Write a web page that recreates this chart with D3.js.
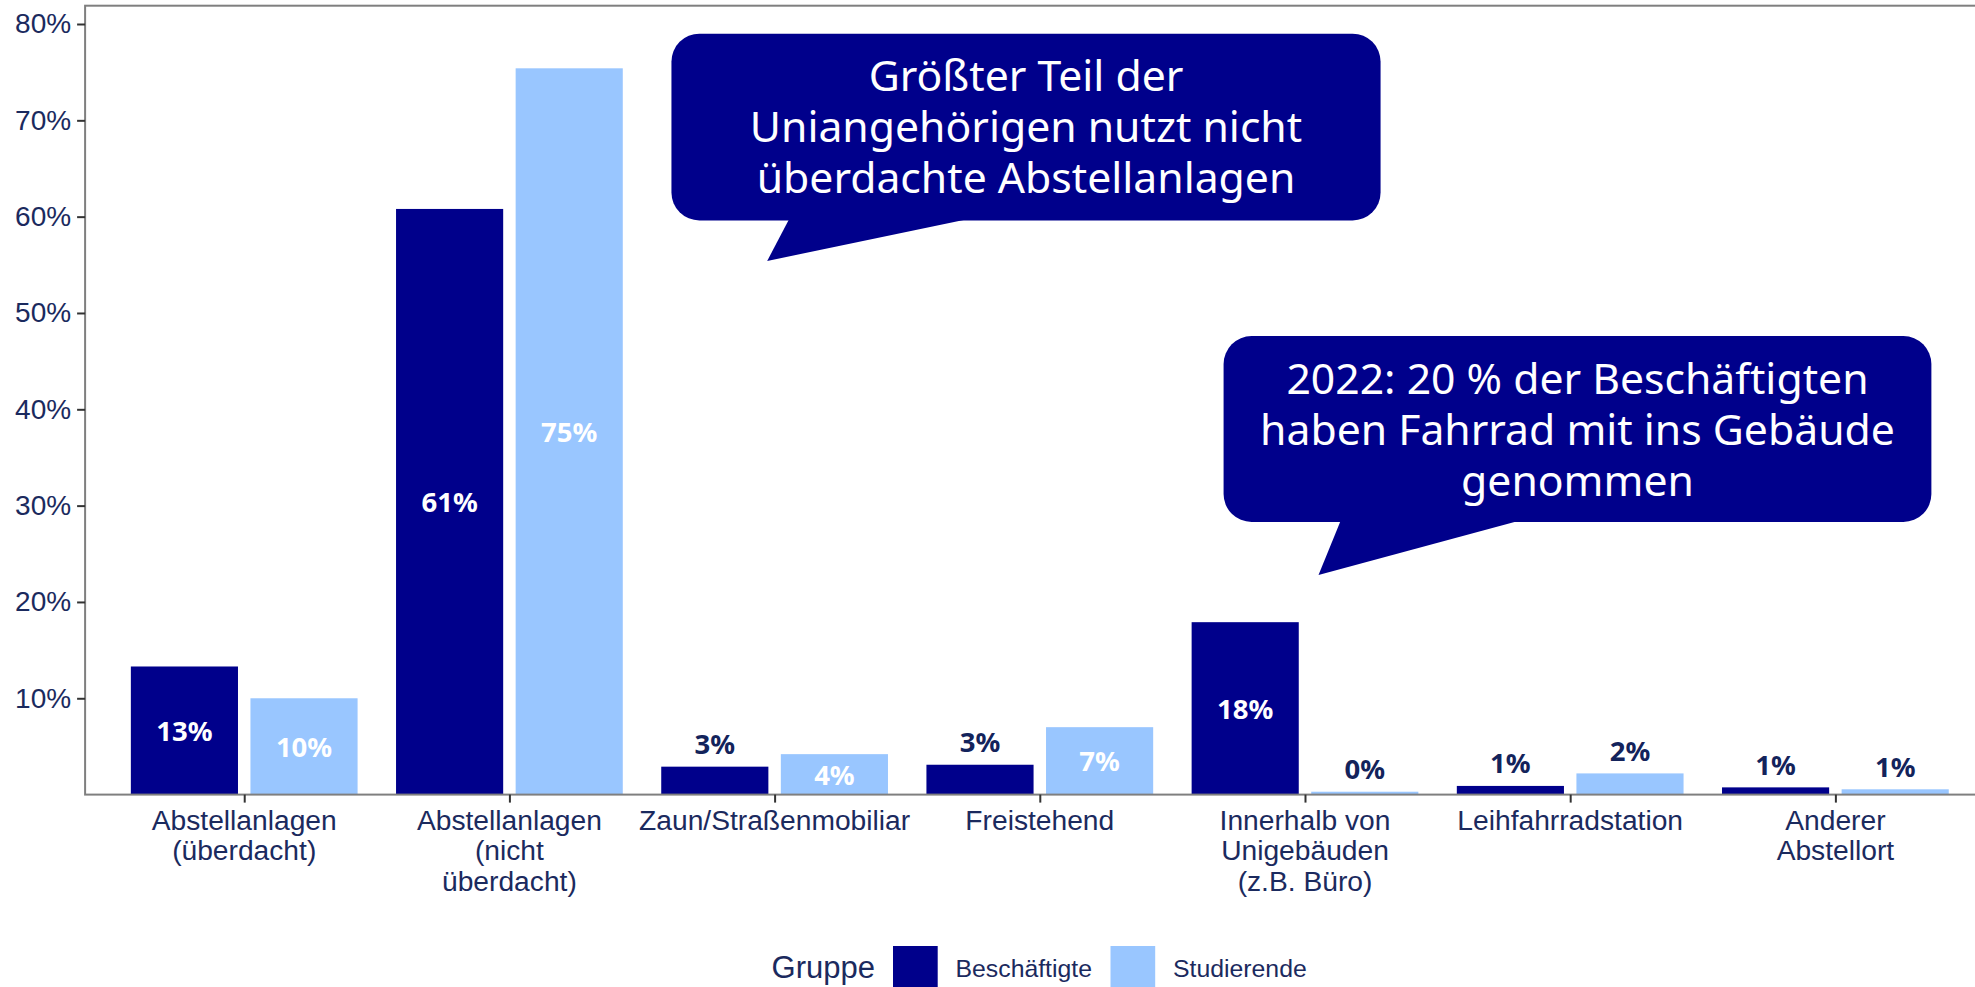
<!DOCTYPE html>
<html>
<head>
<meta charset="utf-8">
<script src="https://cdn.jsdelivr.net/npm/d3@7"></script>
<style>
  body { margin: 0; background: #fff; }
  svg { display: block; }
</style>
</head>
<body>
<svg id="chart" width="1975" height="987"></svg>
<script>
// data
var categories = [
  "Abstellanlagen\n(überdacht)",
  "Abstellanlagen\n(nicht\nüberdacht)",
  "Zaun/Straßenmobiliar",
  "Freistehend",
  "Innerhalb von\nUnigebäuden\n(z.B. Büro)",
  "Leihfahrradstation",
  "Anderer\nAbstellort"
];
var groups = ["Beschäftigte", "Studierende"];
var beschaeftigte = [13.3, 60.8, 2.9, 3.1, 17.9, 0.9, 0.75];
var studierende = [10.0, 75.4, 4.2, 7.0, 0.3, 2.2, 0.55];
var yTicks = [10, 20, 30, 40, 50, 60, 70, 80];

var callout1 = ["Größter Teil der", "Uniangehörigen nutzt nicht", "überdachte Abstellanlagen"];
var callout2 = ["2022: 20 % der Beschäftigten", "haben Fahrrad mit ins Gebäude", "genommen"];

var colors = { "Beschäftigte": "#00008b", "Studierende": "#99c6ff" };
var navy = "#1b2a5e";

var svg = d3.select("#chart");

// panel (window.top is taken, so no plain "top" here)
var panelL = 85.1, panelR = 1994.5, panelT = 5.7, panelB = 794.6;

var x = d3.scalePoint().domain(categories).range([panelL, panelR]).padding(0.6);
var step = x.step();
// continuous version of the category axis, used for the callouts
var xi = d3.scaleLinear().domain([-0.6, categories.length - 0.4]).range([panelL, panelR]);
var y = d3.scaleLinear().domain([0, 81.9]).range([panelB, panelT]);

var rows = [];
categories.forEach(function (c, i) {
  rows.push({ cat: c, group: groups[0], value: beschaeftigte[i], off: -0.2255 });
  rows.push({ cat: c, group: groups[1], value: studierende[i], off: 0.2255 });
});
var barW = 0.404 * step;

// bars
svg.append("g").selectAll("rect")
  .data(rows)
  .join("rect")
  .attr("x", function (d) { return x(d.cat) + d.off * step - barW / 2; })
  .attr("y", function (d) { return y(d.value); })
  .attr("width", barW)
  .attr("height", function (d) { return y(0) - y(d.value); })
  .attr("fill", function (d) { return colors[d.group]; });

// bar labels
svg.append("g").selectAll("text")
  .data(rows)
  .join("text")
  .attr("x", function (d) { return x(d.cat) + d.off * step; })
  .attr("y", function (d) { return d.value > 4 ? y(d.value / 2) : y(d.value) - 23; })
  .attr("dominant-baseline", "central")
  .attr("text-anchor", "middle")
  .attr("font-family", "Noto Sans")
  .attr("font-weight", "bold")
  .attr("font-size", 27.5)
  .attr("fill", function (d) { return d.value > 4 ? "#fff" : "#13235b"; })
  .text(function (d) { return Math.round(d.value) + "%"; });

// panel border (right side sits outside the picture)
svg.append("rect")
  .attr("x", panelL).attr("y", panelT)
  .attr("width", panelR - panelL).attr("height", panelB - panelT)
  .attr("fill", "none").attr("stroke", "#7f7f7f").attr("stroke-width", 2);

// y axis
var yAxis = svg.append("g").attr("transform", "translate(" + panelL + ",0)")
  .call(d3.axisLeft(y).tickValues(yTicks).tickSize(8).tickPadding(6)
    .tickFormat(function (d) { return d + "%"; }));
yAxis.select(".domain").remove();
yAxis.selectAll(".tick line").attr("stroke", "#333").attr("stroke-width", 2);
yAxis.selectAll(".tick text")
  .attr("font-family", "Liberation Sans, Arial, sans-serif")
  .attr("font-size", 28).attr("fill", navy);

// x axis
var xAxis = svg.append("g").attr("transform", "translate(0," + panelB + ")")
  .call(d3.axisBottom(x).tickSize(8).tickFormat(""));
xAxis.select(".domain").remove();
xAxis.selectAll(".tick line").attr("stroke", "#333").attr("stroke-width", 2);

svg.append("g").selectAll("text")
  .data(categories)
  .join("text")
  .attr("text-anchor", "middle")
  .attr("font-family", "Liberation Sans, Arial, sans-serif")
  .attr("font-size", 28.2)
  .attr("fill", navy)
  .each(function (c) {
    var t = d3.select(this);
    c.split("\n").forEach(function (line, k) {
      t.append("tspan").attr("x", x(c)).attr("y", 830 + k * 30.3).text(line);
    });
  });

// callouts, placed in data units (category index, percent)
function callout(box, tail, lines) {
  var g = svg.append("g");
  g.append("rect")
    .attr("x", xi(box.x0)).attr("y", y(box.y1))
    .attr("width", xi(box.x1) - xi(box.x0))
    .attr("height", y(box.y0) - y(box.y1))
    .attr("rx", 28).attr("fill", "#00008b");
  g.append("path")
    .attr("d", d3.line()(tail.map(function (p) { return [xi(p[0]), y(p[1])]; })) + "Z")
    .attr("fill", "#00008b");
  var cx = (xi(box.x0) + xi(box.x1)) / 2;
  g.selectAll("text").data(lines).join("text")
    .attr("x", cx)
    .attr("y", function (d, k) { return y(box.y1) + 57.5 + k * 51; })
    .attr("text-anchor", "middle")
    .attr("font-family", "Noto Sans")
    .attr("font-size", 42.7)
    .attr("fill", "#fff")
    .text(function (d) { return d; });
}

callout({ x0: 1.611, x1: 4.285, y0: 59.6, y1: 79.0 },
  [[2.054, 59.7], [1.972, 55.4], [2.722, 59.7]], callout1);
callout({ x0: 3.693, x1: 6.362, y0: 28.3, y1: 47.6 },
  [[4.134, 28.4], [4.051, 22.8], [4.804, 28.4]], callout2);

// legend
var legend = svg.append("g");
legend.append("text")
  .attr("x", 771.6).attr("y", 978)
  .attr("font-family", "Liberation Sans, Arial, sans-serif")
  .attr("font-size", 31).attr("fill", navy)
  .text("Gruppe");
var keyX = [893, 1110.5];
groups.forEach(function (gname, i) {
  legend.append("rect")
    .attr("x", keyX[i]).attr("y", 946)
    .attr("width", 44.7).attr("height", 44.7)
    .attr("fill", colors[gname]);
  legend.append("text")
    .attr("x", keyX[i] + 62.5).attr("y", 977)
    .attr("font-family", "Liberation Sans, Arial, sans-serif")
    .attr("font-size", 24.8).attr("fill", navy)
    .text(gname);
});
</script>
</body>
</html>
